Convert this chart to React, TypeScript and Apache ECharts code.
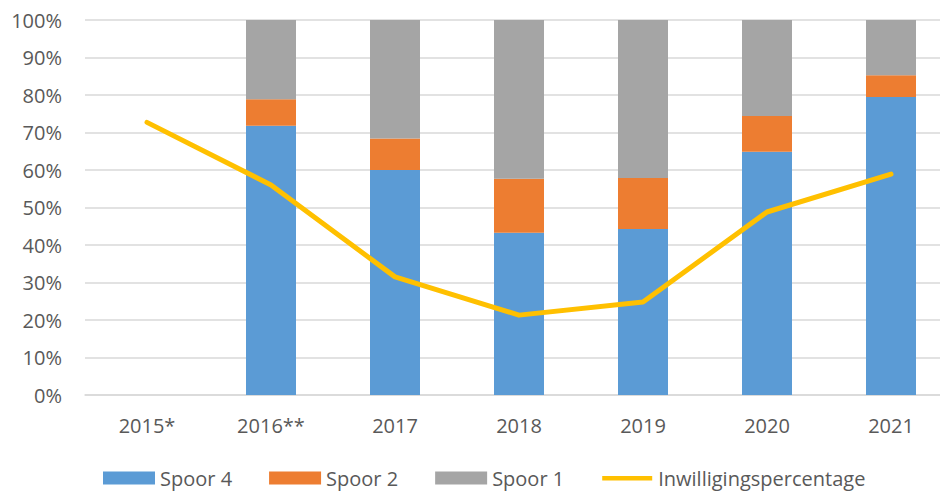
import React, { useEffect, useRef } from "react";
import * as echarts from "echarts";

const categories = ["2015*", "2016**", "2017", "2018", "2019", "2020", "2021"];
const spoor4 = [null, 71.8, 60.0, 43.3, 44.3, 64.9, 79.5];
const spoor2 = [null, 7.1, 8.4, 14.4, 13.6, 9.5, 5.8];
const spoor1 = [null, 21.1, 31.6, 42.3, 42.1, 25.6, 14.7];
const inwilliging = [72.7, 56.0, 31.5, 21.3, 24.8, 48.8, 58.9];

const FONT = "'Open Sans', sans-serif";
const TEXT = "#595959";

export default function App() {
  const ref = useRef<HTMLDivElement>(null);
  useEffect(() => {
    document.body.style.margin = "0";
    const chart = echarts.init(ref.current!, null, { renderer: "svg" });
    const barBase = { type: "bar", stack: "a", barWidth: 50 };
    chart.setOption({
      animation: false,
      textStyle: { fontFamily: FONT },
      grid: { left: 85, top: 20, width: 868, height: 375 },
      legend: {
        left: 103,
        top: 468,
        padding: 0,
        itemWidth: 52,
        itemHeight: 13,
        itemGap: 37,
        textStyle: { fontSize: 20, color: TEXT, fontFamily: FONT },
        data: [
          { name: "Spoor 4", icon: "rect" },
          { name: "Spoor 2", icon: "rect" },
          { name: "Spoor 1", icon: "rect" },
          { name: "Inwilligingspercentage", icon: "path://M0,0 M52,13 M1,4.5 L51,4.5 L51,9 L1,9 Z" },
        ],
      },
      xAxis: {
        type: "category",
        data: categories,
        axisLine: { lineStyle: { color: "#D9D9D9", width: 1.5 } },
        axisTick: { show: false },
        axisLabel: { color: TEXT, fontSize: 20, margin: 20, fontFamily: FONT },
      },
      yAxis: {
        type: "value",
        min: 0,
        max: 100,
        interval: 10,
        axisLine: { show: false },
        axisTick: { show: false },
        splitLine: { lineStyle: { color: "#D9D9D9", width: 1.5 } },
        axisLabel: { color: TEXT, fontSize: 20, margin: 23, fontFamily: FONT, formatter: "{value}%" },
      },
      series: [
        { ...barBase, name: "Spoor 4", data: spoor4, itemStyle: { color: "#5B9BD5" } },
        { ...barBase, name: "Spoor 2", data: spoor2, itemStyle: { color: "#ED7D31" } },
        { ...barBase, name: "Spoor 1", data: spoor1, itemStyle: { color: "#A5A5A5" } },
        {
          type: "line",
          name: "Inwilligingspercentage",
          data: inwilliging,
          symbol: "none",
          lineStyle: { color: "#FFC000", width: 5, cap: "round", join: "round" },
          itemStyle: { color: "#FFC000" },
        },
      ],
    });
    return () => chart.dispose();
  }, []);
  return (
    <div style={{ width: 940, height: 491, overflow: "hidden", position: "relative" }}>
      <div ref={ref} style={{ width: 960, height: 491 }} />
    </div>
  );
}
